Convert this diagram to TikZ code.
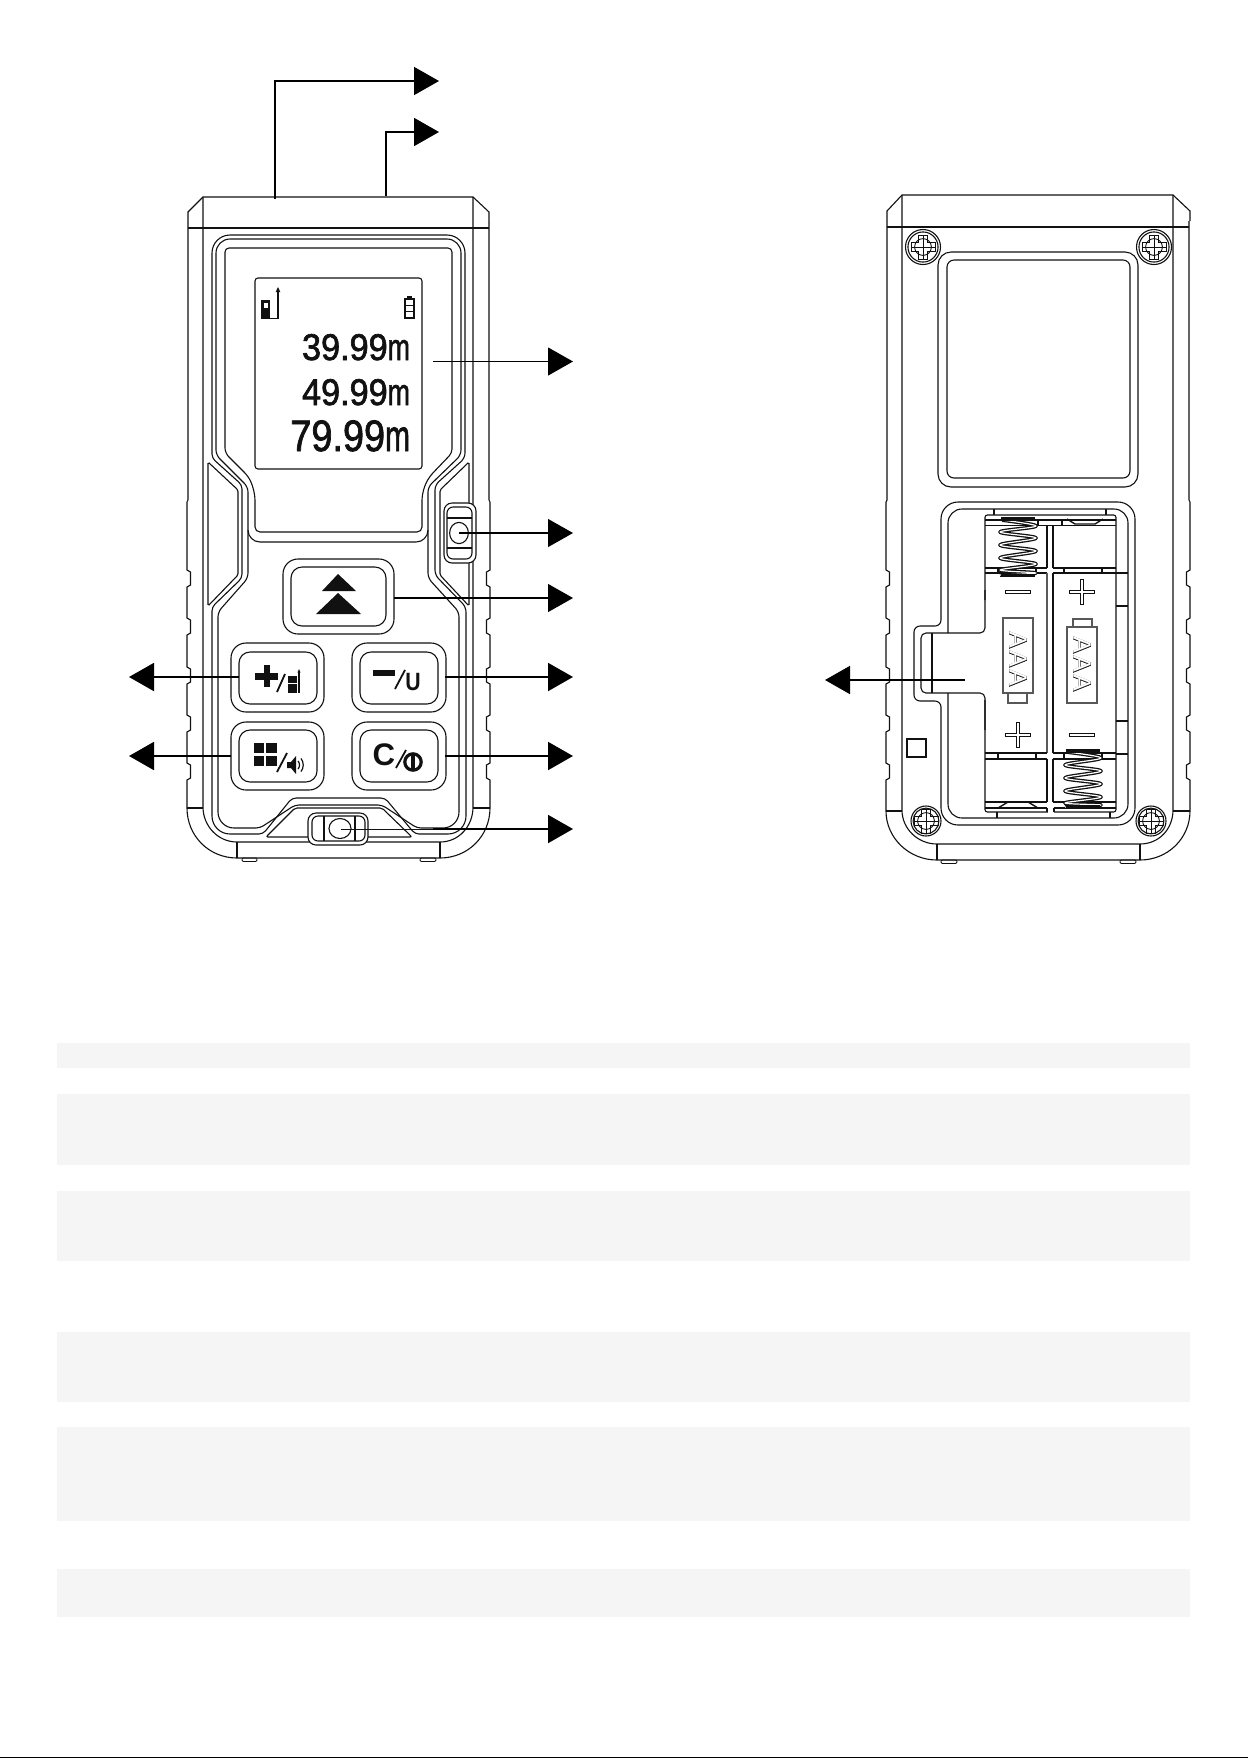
\documentclass[tikz,border=0pt]{standalone}
\usepackage{fontspec}
\usepackage{graphicx}
\setmainfont{Liberation Sans}
\newfontfamily\boldstroke[FakeBold=2.4]{Liberation Sans}
\newfontfamily\lcdfont[FakeBold=1.8]{Liberation Sans}
\usetikzlibrary{arrows.meta}
\definecolor{band}{HTML}{F5F5F5}
\definecolor{ink}{HTML}{111111}
\tikzset{
  ln/.style={draw=ink,line width=0.55pt},
  fine/.style={draw=ink,line width=0.45pt},
  bigtip/.style={-{Triangle[length=12.5pt,width=14pt]},black},
  conn/.style={bigtip,line width=0.6pt},
  connb/.style={bigtip,line width=1pt},
  solid/.style={fill=ink,draw=none},
  bandbox/.style={fill=band,draw=none},
  txt/.style={inner sep=0pt,outer sep=0pt,text=ink},
}
\newcommand{\screwmark}[3]{% x y diameter
  \draw[ln] (#1,#2) circle[radius=#3*0.25pt];
  \draw[ln] (#1,#2) circle[radius=#3*0.215pt];
  \draw[fine] (#1-12,#2-4.5)--(#1-4.5,#2-4.5)--(#1-4.5,#2-12)--(#1+4.5,#2-12)--(#1+4.5,#2-4.5)--(#1+12,#2-4.5)--(#1+12,#2+4.5)--(#1+4.5,#2+4.5)--(#1+4.5,#2+12)--(#1-4.5,#2+12)--(#1-4.5,#2+4.5)--(#1-12,#2+4.5)--cycle;
  \draw[fine] (#1-12,#2)--(#1+12,#2) (#1,#2-12)--(#1,#2+12);
  \draw[fine] (#1,#2) circle[radius=4.2pt];
}
\newcommand{\battplus}[2]{%
  \draw[fine] (#1-12.5,#2-1.7)--(#1-1.7,#2-1.7)--(#1-1.7,#2-12.5)--(#1+1.7,#2-12.5)--(#1+1.7,#2-1.7)--(#1+12.5,#2-1.7)--(#1+12.5,#2+1.7)--(#1+1.7,#2+1.7)--(#1+1.7,#2+12.5)--(#1-1.7,#2+12.5)--(#1-1.7,#2+1.7)--(#1-12.5,#2+1.7)--cycle;
}
\newcommand{\battminus}[2]{\draw[fine] (#1-12.5,#2-1.7) rectangle (#1+12.5,#2+1.7);}
\newcommand{\aaatext}[3]{% x y name
  \node[txt,rotate=-90,text=ink] at (#1,#2) {\boldstroke\fontsize{12.6}{12.6}\selectfont A\kern1.1pt A\kern1.1pt A};
  \node[txt,rotate=-90,text=white] (#3) at (#1,#2) {\fontsize{12.6}{12.6}\selectfont A\kern1.1pt A\kern1.1pt A};
}
\begin{document}
\begin{tikzpicture}[x=0.5pt,y=-0.5pt]
\useasboundingbox (0,0) rectangle (1248,1758);

% ---------- bands -------
\fill[bandbox] (57,1043) rectangle (1190,1068);
\fill[bandbox] (57,1094) rectangle (1190,1165);
\fill[bandbox] (57,1191) rectangle (1190,1261);
\fill[bandbox] (57,1332) rectangle (1190,1402);
\fill[bandbox] (57,1427) rectangle (1190,1521);
\fill[bandbox] (57,1569) rectangle (1190,1617);
\fill[black] (0,1756.5) rectangle (1248,1758);

% ---------- FRONT BODY -------
\draw[ln] (188,223)--(188,212)--(203,197)--(473,197)--(489,212)--(489,223);
\draw[ln] (188,228)--(489,228);
\draw[ln] (188,223)--(188,500)--(187,502) foreach \y in {570,618,667,715,763} {--(187,\y)--(190.5,\y+2)--(190.5,\y+15)--(187,\y+17)} --(187,808)
   .. controls (187,836) and (209,858) .. (237,858)--(440,858)
   .. controls (468,858) and (490,836) .. (490,808)
   foreach \y in {763,715,667,618,570} {--(490,\y+17)--(486.5,\y+15)--(486.5,\y+2)--(490,\y)} --(490,502)--(489,500)--(489,223);
\draw[ln] (203,197)--(203,807) .. controls (203,826) and (218,842) .. (237,842)--(440,842)
   .. controls (459,842) and (473,826) .. (473,807)--(473,197);
\draw[ln] (187,808)--(203,808) (473,808)--(490,808);
\draw[ln] (237,842)--(237,858) (440,842)--(440,858);
\draw[fine,rounded corners=0.6pt] (242,858) rectangle (257,861.5);
\draw[fine,rounded corners=0.6pt] (420,858) rectangle (436,861.5);

% channels
\draw[ln,rounded corners=2.5pt] (212,300)[rounded corners=9pt]--(212,235)--(465,235)[rounded corners=2.5pt]--(465,458)--(435,485)--(435,575)--(466,607)[rounded corners=9pt]--(466,834)[rounded corners=2pt]--(415,834)--(385,798)--(292,798)--(263,834)[rounded corners=9pt]--(212,834)[rounded corners=2pt]--(212,607)--(242,578)--(242,485)--(212,458)--(212,300);
\draw[ln,rounded corners=2.5pt] (216,300)[rounded corners=7pt]--(216,239)--(461,239)[rounded corners=2.5pt]--(461,455)--(428,487)[rounded corners=6pt]--(428,542)--(248,542)[rounded corners=2.5pt]--(248,487)--(216,455)--(216,300);
\draw[ln,rounded corners=2.5pt] (248,530)--(248,578)--(218,612)[rounded corners=8pt]--(218,828)[rounded corners=2pt]--(260,828)--(295,805)--(382,805)--(417,828)[rounded corners=8pt]--(459,828)[rounded corners=2.5pt]--(459,612)--(428,578)--(428,530);
\draw[ln,rounded corners=1pt] (266,837)--(295,808)--(382,808)--(412,837)--cycle;
% bezel
\draw[ln,rounded corners=2pt] (225,300)[rounded corners=2pt]--(225,248)--(452,248)--(452,453)--(430,476)[rounded corners=5pt]--(422,490)[rounded corners=2.5pt]--(422,532)--(255,532)[rounded corners=5pt]--(255,490)[rounded corners=2.5pt]--(248,476)--(225,453)--(225,300);
% side pads
\draw[ln,rounded corners=0.8pt] (208,462)--(238,490)--(238,575)--(208,606)--cycle;
\draw[ln,rounded corners=0.8pt] (469,462)--(440,490)--(440,575)--(469,606)--cycle;

% LCD
\draw[ln,rounded corners=1.5pt,fill=white] (255,278) rectangle (422,469);
\node[txt,anchor=base east] (lcdA) at (410,360) {\lcdfont\fontsize{18.6}{18.6}\selectfont\scalebox{.92}[1]{39.99}\scalebox{.72}[1]{m}};
\node[txt,anchor=base east] (lcdB) at (410,405) {\lcdfont\fontsize{18.6}{18.6}\selectfont\scalebox{.92}[1]{49.99}\scalebox{.72}[1]{m}};
\node[txt,anchor=base east] (lcdC) at (410,451) {\lcdfont\fontsize{22}{22}\selectfont\scalebox{.86}[1]{79.99}\scalebox{.68}[1]{m}};
% LCD icons
\fill[solid] (261,300) rectangle (270,319);
\fill[white] (263.5,303) rectangle (268,308);
\draw[ink,line width=0.6pt] (270,318.7)--(278,318.7)--(278,291);
\fill[solid] (275.7,292)--(280.3,292)--(278,287)--cycle;
\fill[solid] (404,298) rectangle (415,319);
\fill[solid] (407,296) rectangle (412,298);
\fill[white] (406,300) rectangle (413,304.5);
\fill[white] (406,306) rectangle (413,310.5);
\fill[white] (406,312) rectangle (413,317);

% side level
\draw[ln,rounded corners=4pt,fill=white] (444,503) rectangle (476,563);
\draw[ln,rounded corners=3pt] (447,507) rectangle (472,559);
\draw[ln] (447,518)--(472,518) (447,548)--(472,548);
\draw[ln] (459,533) ellipse[x radius=4.7pt,y radius=5.3pt];

% up button
\draw[ln,rounded corners=7.5pt] (283,559) rectangle (394,634);
\draw[ln,rounded corners=5.5pt] (291,567) rectangle (386,626);
\fill[solid] (338,574)--(356,591)--(322,591)--cycle;
\fill[solid] (338,593)--(361,614)--(316,614)--cycle;

% four keys
\draw[ln,rounded corners=7.5pt] (231,643) rectangle (324,712);
\draw[ln,rounded corners=5.5pt] (239,652) rectangle (317,704);
\draw[ln,rounded corners=7.5pt] (352,643) rectangle (446,712);
\draw[ln,rounded corners=5.5pt] (360,652) rectangle (438,704);
\draw[ln,rounded corners=7.5pt] (231,722) rectangle (324,790);
\draw[ln,rounded corners=5.5pt] (239,730) rectangle (317,782);
\draw[ln,rounded corners=7.5pt] (352,722) rectangle (446,790);
\draw[ln,rounded corners=5.5pt] (360,730) rectangle (438,782);

% plus / device
\fill[solid] (255,673) rectangle (278,679.5);
\fill[solid] (264,665) rectangle (270,687);
\draw[ink,line width=0.9pt] (277,692)--(285,674);
\fill[solid] (288,676) rectangle (300,693);
\draw[white,line width=0.35pt] (288,683)--(297.5,683) (297.5,676)--(297.5,693);
\draw[ink,line width=0.6pt] (299,693)--(299,672);
\fill[solid] (297.5,672.5)--(300.5,672.5)--(299,669)--cycle;
% minus / U
\fill[solid] (373,670) rectangle (395,676);
\draw[ink,line width=0.9pt] (395,689)--(405,670);
\node[txt,anchor=base] (keyU) at (413,690) {\bfseries\fontsize{12.5}{12.5}\selectfont\scalebox{.85}[1]{U}};
% grid / speaker
\fill[solid] (254,743) rectangle (264,753);
\fill[solid] (266,743) rectangle (277,753);
\fill[solid] (254,756) rectangle (264,766);
\fill[solid] (266,756) rectangle (277,766);
\draw[ink,line width=0.9pt] (277,772)--(287,753);
\fill[solid] (287,762)--(291,762)--(296,756)--(296,774)--(291,768)--(287,768)--cycle;
\draw[ink,line width=0.6pt] (298,761) .. controls (300,763) and (300,767) .. (298,769);
\draw[ink,line width=0.6pt] (301,758.5) .. controls (304,762) and (304,768) .. (301,771.5);
% C / power
\node[txt,anchor=base] (keyC) at (384,765.5) {\bfseries\fontsize{15.6}{15.6}\selectfont C};
\draw[ink,line width=0.9pt] (396,768)--(406,750);
\draw[ink,line width=1.6pt] (413,762) circle[radius=4.1pt];
\fill[solid] (411.3,755) rectangle (414.7,769);

% bottom level
\draw[ln,rounded corners=4pt,fill=white] (308,813) rectangle (368,845);
\draw[ln,rounded corners=3pt] (312,816) rectangle (365,841);
\draw[ln] (324,816)--(324,841) (355,816)--(355,841);
\draw[ln] (340,828.5) ellipse[x radius=5.5pt,y radius=5pt];

% ---------- front connectors -------
\coordinate (laserOut) at (275,199);
\coordinate (laserTip) at (439,81);
\coordinate (laserIn) at (386,196);
\coordinate (laserInTip) at (439,132);
\coordinate (screenP) at (433,361.5);
\coordinate (screenTip) at (573,361.5);
\coordinate (sideP) at (459,533);
\coordinate (sideTip) at (573,533);
\coordinate (upP) at (394,598);
\coordinate (upTip) at (573,598);
\coordinate (minusP) at (445,677);
\coordinate (minusTip) at (573,677);
\coordinate (cP) at (445,756);
\coordinate (cTip) at (573,756);
\coordinate (botP) at (341,829);
\coordinate (botMid) at (433,829);
\coordinate (botTip) at (573,829);
\coordinate (plusP) at (239,677);
\coordinate (plusTip) at (129,677);
\coordinate (gridP) at (231,756);
\coordinate (gridTip) at (129,756);
\coordinate (doorP) at (965,680);
\coordinate (doorTip) at (825,680);
\draw[conn,line width=0.8pt] (laserOut) |- (laserTip);
\draw[conn,line width=0.9pt] (laserIn) |- (laserInTip);
\draw[conn] (screenP)--(screenTip);
\draw[conn] (sideP)--(sideTip);
\draw[conn] (upP)--(upTip);
\draw[connb] (minusP)--(minusTip);
\draw[connb] (cP)--(cTip);
\draw[ink,line width=0.5pt] (botP)--(botMid);
\draw[connb] (botMid)--(botTip);
\draw[connb] (plusP)--(plusTip);
\draw[connb] (gridP)--(gridTip);

% ---------- BACK BODY -------
\draw[ln] (887,221)--(887,211)--(902,195)--(1173,195)--(1190,211)--(1190,221);
\draw[ln] (887,227)--(1189,227);
\draw[ln] (887,221)--(887,500)--(886,502) foreach \y in {570,618,667,715,763} {--(886,\y)--(889.5,\y+2)--(889.5,\y+15)--(886,\y+17)} --(886,811)
   .. controls (886,838) and (909,860) .. (937,860)--(1140,860)
   .. controls (1168,860) and (1190,838) .. (1190,811)
   foreach \y in {763,715,667,618,570} {--(1190,\y+17)--(1186.5,\y+15)--(1186.5,\y+2)--(1190,\y)} --(1190,502)--(1189,500)--(1189,221);
\draw[ln] (902,195)--(902,810) .. controls (902,829) and (918,844) .. (937,844)--(1140,844)
   .. controls (1159,844) and (1173,829) .. (1173,810)--(1173,195);
\draw[ln] (886,811)--(902,811) (1173,811)--(1190,811);
\draw[ln] (937,844)--(937,860) (1140,844)--(1140,860);
\draw[fine,rounded corners=0.6pt] (941,860) rectangle (957,863.5);
\draw[fine,rounded corners=0.6pt] (1120,860) rectangle (1136,863.5);

% screws
\screwmark{923}{247}{35}
\screwmark{1154}{247}{35}
\screwmark{926}{821}{30}
\screwmark{1151}{821}{30}

% window
\draw[ln,rounded corners=6.5pt] (938,252) rectangle (1138,487);
\draw[ln,rounded corners=3.5pt] (947,260) rectangle (1130,478);

% door
\draw[ln,rounded corners=8.5pt] (941,560)--(941,502)--(1135,502)--(1135,825)--(941,825)--(941,760)[rounded corners=3pt]--(941,701)--(914,701)--(914,626)--(941,626)--(941,560);
\draw[ln,rounded corners=7pt] (948,633)--(948,509)--(1128,509)--(1128,818)--(948,818)--(948,693);
\draw[ln,rounded corners=2.5pt] (985,590)--(985,633)--(921,633)--(921,693)--(985,693)--(985,730);
\draw[ln] (932,633)--(932,693);
\draw[ln,fill=white] (907,739) rectangle (926,757);

% compartment
\draw[ln,rounded corners=1.2pt] (985,600)--(985,515)--(1116,515)--(1116,812)--(985,812)--(985,700);
\draw[ln] (994,509)--(994,515) (1106,509)--(1106,515);
\draw[ln] (985,520)--(1116,520) (985,525.5)--(1116,525.5);
\draw[ln] (1038,520) rectangle (1062,525.5);
\draw[line width=0.7pt,ink] (1067,519)--(1075,524)--(1095,524)--(1103,519);
\draw[ln] (1047,525.5)--(1047,568) (1053,525.5)--(1053,568);
\draw[ln] (985,568)--(1047,568) (1053,568)--(1116,568);
\draw[ln] (985,573)--(1047,573) (1053,573)--(1116,573);
\draw[ln] (998,568)--(998,573) (1036,568)--(1036,573) (1064,568)--(1064,573) (1102,568)--(1102,573);
\draw[line width=0.8pt,draw=gray!70!black] (1047,573)--(1047,753);
\draw[ln] (1053,573)--(1053,753);
\draw[ln] (985,753)--(1047,753) (1053,753)--(1116,753);
\draw[ln] (985,759)--(1047,759) (1053,759)--(1116,759);
\draw[ln] (998,753)--(998,759) (1036,753)--(1036,759) (1064,753)--(1064,759) (1102,753)--(1102,759);
\draw[ln] (1047,759)--(1047,802) (1053,759)--(1053,802);
\draw[ln] (985,802)--(1047,802) (1053,802)--(1116,802);
\draw[ln] (985,808)--(1047,808) (1054,808)--(1116,808);
\draw[white,line width=1pt] (1047.6,812)--(1053.6,812);
\draw[ln] (1047,808)--(1047,812) (1054,808)--(1054,812);
\draw[line width=0.7pt,ink] (998,808)--(1008,802)--(1028,802)--(1038,808);
\draw[ln] (997,812)--(997,818) (1110,812)--(1110,818);
\draw[ln] (1116,573)--(1128,573) (1116,606)--(1128,606) (1116,721)--(1128,721) (1116,754)--(1128,754);

% signs
\battminus{1018}{592}
\battplus{1082}{592}
\battplus{1018}{735}
\battminus{1082}{735}

% battery marks
\draw[draw=ink!70,line width=0.9pt] (1003,618) rectangle (1033,693);
\draw[draw=ink!70,line width=0.9pt] (1008,693) rectangle (1027,703);
\draw[draw=ink!70,line width=0.9pt] (1067,627) rectangle (1097,703);
\draw[draw=ink!70,line width=0.9pt] (1073,619) rectangle (1092,627);
\aaatext{1018}{659}{aaaL}
\aaatext{1082}{664}{aaaR}

% springs
\foreach \xa/\xb/\ya/\yb/\yc/\yd/\ye/\yf/\yg/\yh/\yi/\yj/\yk in
  {1000/1036/520/526/532/538/545/551/558/564/570/573/575,
   1065/1101/752/758/765/771/778/784/791/797/803/805/807}{
  \draw[ink,line width=1.9pt,line join=round] plot[smooth,tension=0.55] coordinates {(\xa+2,\ya) (\xb,\yb) (\xa,\yc) (\xb,\yd) (\xa,\ye) (\xb,\yf) (\xa,\yg) (\xb,\yh) (\xa,\yi) (\xb,\yj) (\xa,\yk)};
  \draw[white,line width=0.6pt,line join=round] plot[smooth,tension=0.55] coordinates {(\xa+2,\ya) (\xb,\yb) (\xa,\yc) (\xb,\yd) (\xa,\ye) (\xb,\yf) (\xa,\yg) (\xb,\yh) (\xa,\yi) (\xb,\yj) (\xa,\yk)};
}
\draw[ink,line width=1.6pt] (1001,575.5)--(1035,575.5);
\draw[ink,line width=1.6pt] (1001,519)--(1035,519);
\draw[ink,line width=1.6pt] (1066,751)--(1100,751);
\draw[ink,line width=1.6pt] (1066,807)--(1100,807);

% door connector
\draw[conn,line width=0.9pt] (doorP)--(doorTip);
\end{tikzpicture}
\end{document}
